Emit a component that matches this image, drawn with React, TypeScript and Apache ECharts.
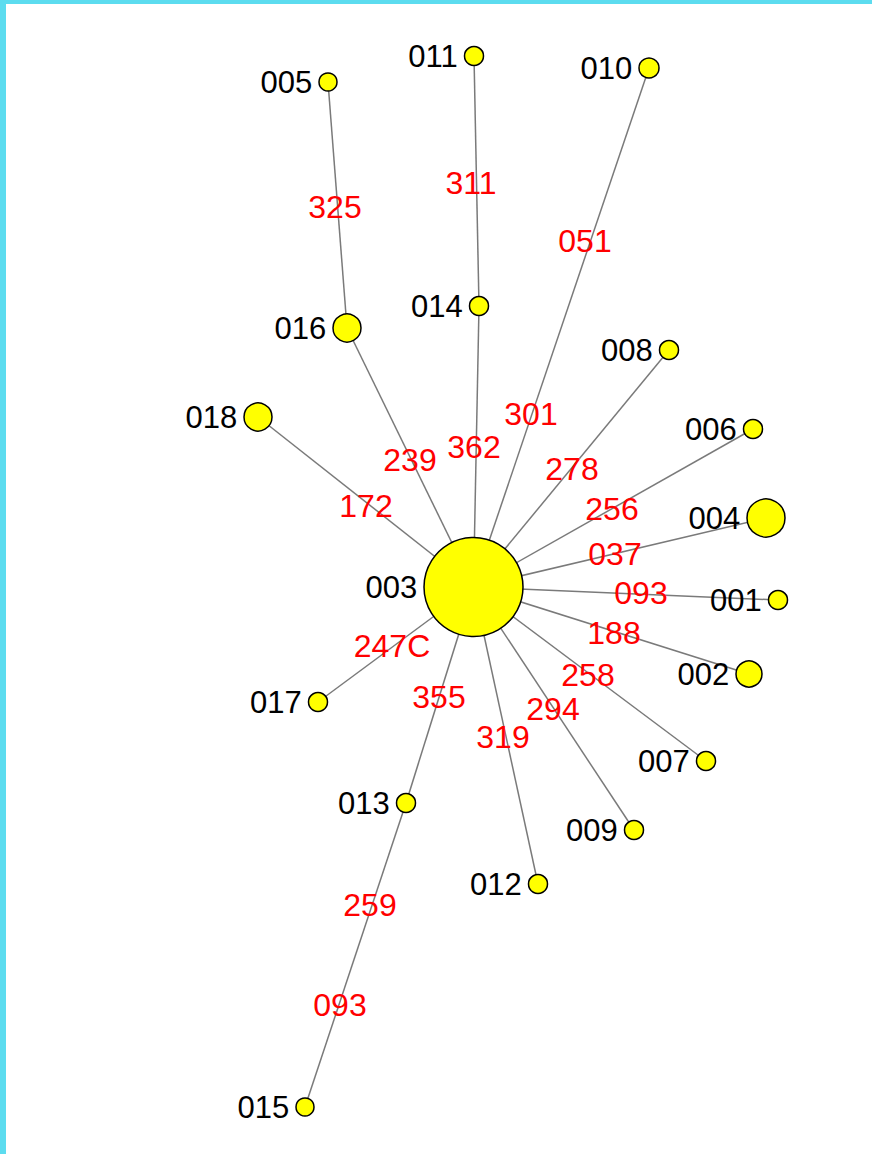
import React, { useEffect, useRef } from "react";
import * as echarts from "echarts";

// Haplotype nodes: name, position, symbol diameter
const nodeNames = ["001", "002", "003", "004", "005", "006", "007", "008", "009", "010", "011", "012", "013", "014", "015", "016", "017", "018"];
const nodeX = [778, 749, 473.5, 766, 328, 753, 706, 669, 634, 649, 474, 538, 406, 479, 305, 347, 318, 258];
const nodeY = [600, 674, 587, 518, 82, 429, 761, 350, 830, 68, 56, 884, 803, 306, 1107, 328, 702, 417];
const nodeSizes = [19, 26, 99, 38, 18, 19, 19, 19, 19, 20, 19, 19, 19, 19, 18, 28, 19, 28];

// Links (source, target)
const linkSources = ["005", "016", "011", "014", "010", "018", "008", "006", "004", "001", "002", "007", "009", "012", "013", "017", "015"];
const linkTargets = ["016", "003", "014", "003", "003", "003", "003", "003", "003", "003", "003", "003", "003", "003", "003", "003", "013"];

// Mutation labels and their positions
const mutLabels = ["325", "311", "051", "301", "362", "239", "172", "278", "256", "037", "093", "188", "258", "294", "319", "355", "247C", "259", "093"];
const mutX = [335, 471, 585, 531, 474, 410, 366, 572, 612, 615, 641, 614, 588, 553, 503, 439, 392, 370, 340];
const mutY = [207, 183, 241, 414, 447, 460, 506, 469, 509, 554, 593, 633, 675, 709, 737, 697, 646, 905, 1005];

const FONT = '"Liberation Sans", Arial, sans-serif';

export default function App() {
  const ref = useRef<HTMLDivElement>(null);
  useEffect(() => {
    if (!ref.current) return;
    const chart = echarts.init(ref.current, undefined, { renderer: "svg" });
    const nodes = nodeNames.map((n, i) => ({
      name: n,
      value: [nodeX[i], nodeY[i]],
      symbolSize: nodeSizes[i],
    }));
    const links = linkSources.map((s, i) => ({ source: s, target: linkTargets[i] }));
    const muts = mutLabels.map((m, i) => ({ name: m, value: [mutX[i], mutY[i]] }));
    chart.setOption({
      animation: false,
      backgroundColor: "#5cdcef",
      grid: {
        left: 6,
        top: 4,
        right: 0,
        bottom: 0,
        show: true,
        backgroundColor: "#ffffff",
        borderWidth: 0,
      },
      xAxis: { type: "value", min: 6, max: 872, show: false },
      yAxis: { type: "value", min: 4, max: 1154, inverse: true, show: false },
      series: [
        {
          type: "graph",
          layout: "none",
          coordinateSystem: "cartesian2d",
          symbol: "circle",
          data: nodes,
          links: links,
          z: 2,
          itemStyle: { color: "#ffff00", borderColor: "#000000", borderWidth: 1.5 },
          lineStyle: { color: "#7a7a7a", width: 1.5, opacity: 1, curveness: 0 },
          label: {
            show: true,
            position: "left",
            distance: 6,
            color: "#000000",
            fontSize: 31,
            fontFamily: FONT,
            formatter: "{b}",
          },
          emphasis: { disabled: true },
        },
        {
          type: "scatter",
          data: muts,
          symbolSize: 1,
          z: 3,
          itemStyle: { color: "rgba(0,0,0,0)", opacity: 1 },
          label: {
            show: true,
            position: "inside",
            color: "#ff0000",
            fontSize: 32,
            fontFamily: FONT,
            formatter: "{b}",
            opacity: 1,
          },
          emphasis: { disabled: true },
          silent: true,
        },
      ],
    });
    return () => chart.dispose();
  }, []);
  return (
    <div
      ref={ref}
      style={{ position: "fixed", left: 0, top: 0, width: 872, height: 1154 }}
    />
  );
}
